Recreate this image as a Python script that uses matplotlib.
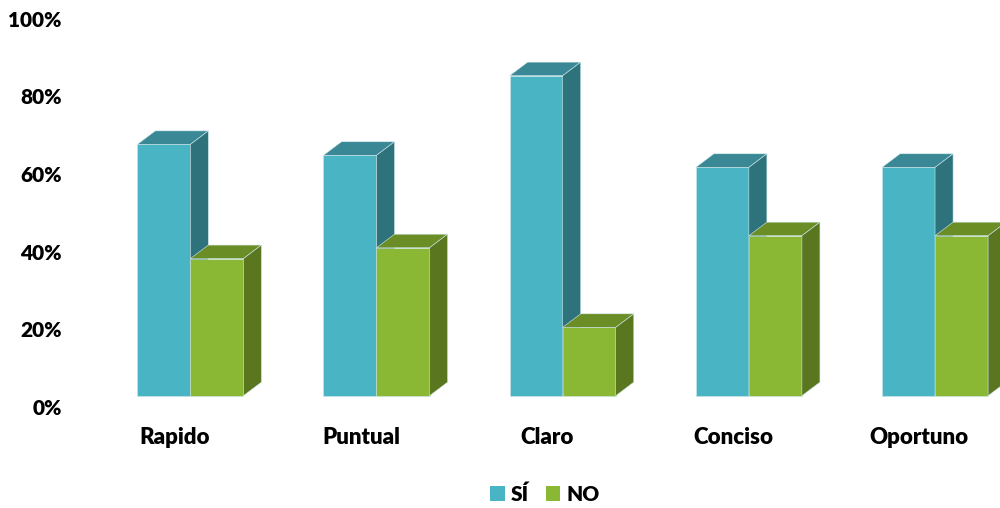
import matplotlib.pyplot as plt
from matplotlib.patches import Polygon, Patch

plt.rcParams['font.family'] = ['Lato', 'DejaVu Sans']
plt.rcParams['font.weight'] = 'heavy'

categories = ['Rapido', 'Puntual', 'Claro', 'Conciso', 'Oportuno']
si = [64.7, 61.9, 82.4, 58.8, 58.8]
no = [35.3, 38.1, 17.6, 41.2, 41.2]
yticks = [0, 20, 40, 60, 80, 100]

# face colours: front, top, side
si_colors = ('#49b4c4', '#3a8895', '#2e737c')
no_colors = ('#8ab834', '#6a8d25', '#5a761f')

width = 0.285
depth_x = 0.097   # fake 3D depth, in category units
depth_y = 3.5     # fake 3D depth, in percent units
floor = 2.9       # front edge of the floor sits a bit above the 0% line


def bar3d(ax, x0, h, colors):
    front, top_c, side_c = colors
    x1 = x0 + width
    top = floor + h
    edge = dict(edgecolor='#cfe9ec', linewidth=0.4)
    ax.bar(x0, h, width, bottom=floor, align='edge', color=front, **edge, zorder=2)
    ax.add_patch(Polygon([(x0, top), (x1, top), (x1 + depth_x, top + depth_y),
                          (x0 + depth_x, top + depth_y)], closed=True,
                         facecolor=top_c, **edge, zorder=2))
    ax.add_patch(Polygon([(x1, floor), (x1 + depth_x, floor + depth_y),
                          (x1 + depth_x, top + depth_y), (x1, top)], closed=True,
                         facecolor=side_c, **edge, zorder=2))


fig = plt.figure(figsize=(10, 5.08), dpi=100)
ax = fig.add_axes([0.07, 0.0, 0.93, 1.0])

for i in range(len(categories)):
    bar3d(ax, i - width, si[i], si_colors)
    bar3d(ax, i, no[i], no_colors)
    ax.text(i - 0.084, -7.8, categories[i], ha='center', va='center',
            fontsize=16, fontweight='heavy', color='black')

ax.set_xlim(-0.646, 4.349)
ax.set_ylim(-26.0, 104.8)
ax.set_yticks(yticks)
ax.set_yticklabels(['%d%%' % t for t in yticks], fontsize=15, fontweight='heavy')
ax.tick_params(axis='y', length=0, pad=6)
ax.set_xticks([])
for s in ax.spines.values():
    s.set_visible(False)

handles = [Patch(facecolor=si_colors[0], label='SÍ'),
           Patch(facecolor=no_colors[0], label='NO')]
fig.legend(handles=handles, loc='center', bbox_to_anchor=(0.545, 0.027), ncol=2,
           frameon=False, handlelength=0.7, handleheight=0.7, handletextpad=0.3,
           columnspacing=0.8, prop={'size': 15, 'weight': 'heavy'})

fig.savefig('out.png', dpi=100)
